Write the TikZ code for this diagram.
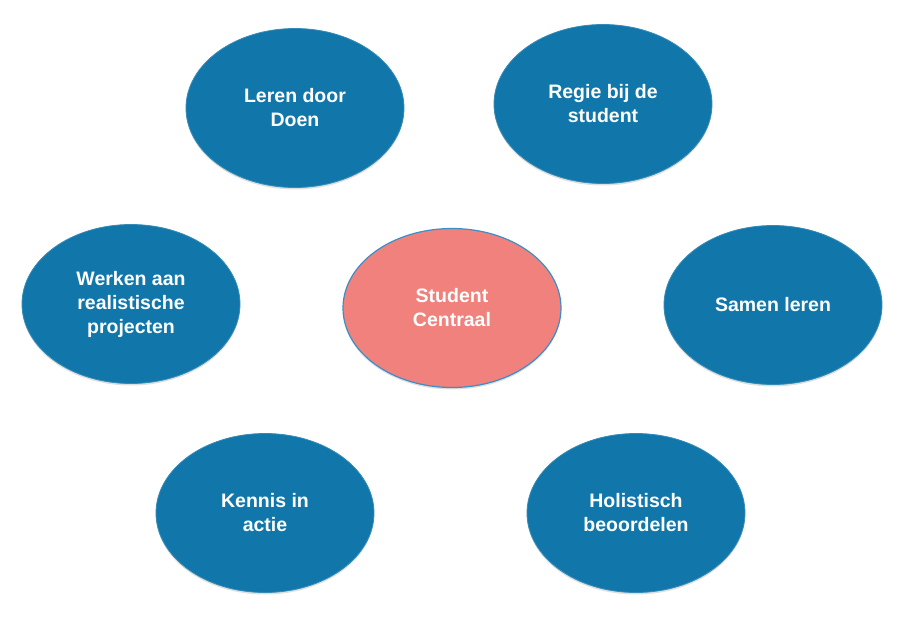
\documentclass[tikz,border=0pt]{standalone}
\usepackage{fontspec}
\setmainfont{Liberation Sans}
\usetikzlibrary{shapes.geometric,shadows}
\definecolor{petrol}{HTML}{1177AA}
\definecolor{salmon}{HTML}{F0817D}
\definecolor{rimblue}{HTML}{3B8FC8}
\tikzset{
  bubble/.style={ellipse, minimum width=218pt, minimum height=159pt, inner sep=0pt,
    fill=petrol, draw=petrol!85!white, line width=0.8pt, text=white,
    font=\fontsize{19.5}{24}\selectfont\bfseries, align=center,
    drop shadow={opacity=0.25, shadow xshift=0pt, shadow yshift=-2pt}},
  hub/.style={bubble, fill=salmon, draw=rimblue, line width=1.2pt}
}
\begin{document}
\begin{tikzpicture}[x=1pt,y=-1pt]
\useasboundingbox (0,0) rectangle (906,632);
\node[bubble] (doen) at (295,108) {Leren door\\Doen};
\node[bubble] (regie) at (603,104) {Regie bij de\\student};
\node[bubble] (werken) at (131,304) {Werken aan\\realistische\\projecten};
\node[hub] (centraal) at (452,308) {Student\\Centraal};
\node[bubble] (samen) at (773,305) {Samen leren};
\node[bubble] (kennis) at (265,513) {Kennis in\\actie};
\node[bubble] (holist) at (636,513) {Holistisch\\beoordelen};
\end{tikzpicture}
\end{document}
